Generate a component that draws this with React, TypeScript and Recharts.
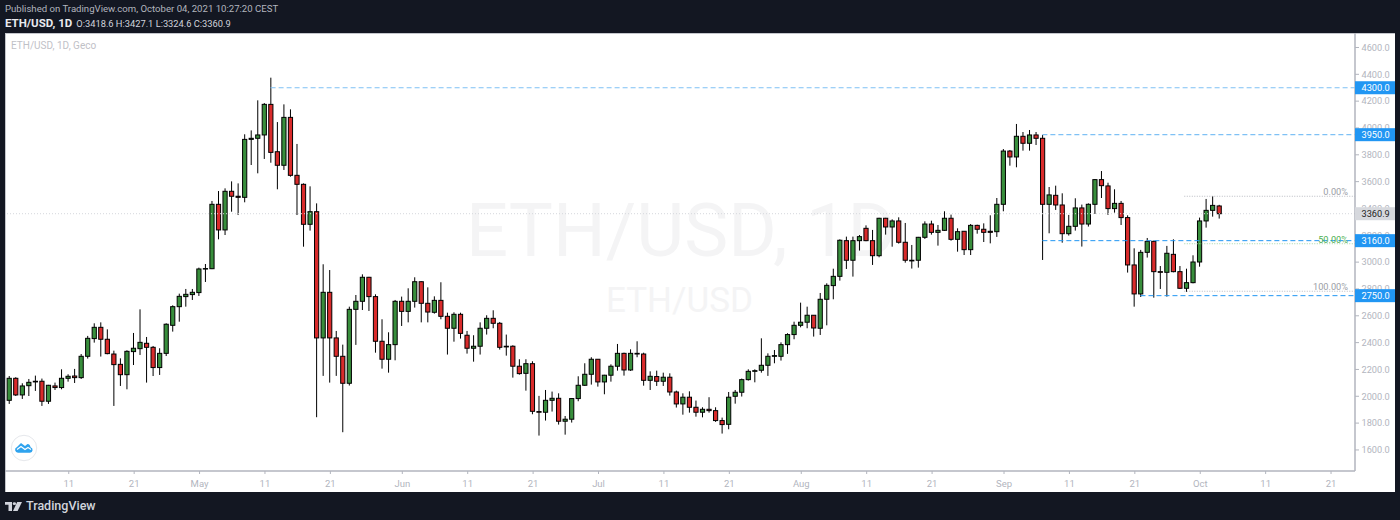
import { Bar, ComposedChart, ReferenceLine, XAxis, YAxis } from "recharts"

// one row per ten candles, first candle is Apr 02 2021, last is Oct 04 2021
const opens = [
  1970, 2134, 2010, 2079, 2112, 2112, 1963, 2077, 2065, 2134,
  2151, 2139, 2298, 2430, 2514, 2425, 2315, 2238, 2161, 2333,
  2355, 2395, 2365, 2214, 2320, 2529, 2668, 2743, 2758, 2773,
  2949, 2951, 3431, 3240, 3528, 3491, 3483, 3915, 3923, 3948,
  4176, 3823, 3722, 4079, 3647, 3580, 3282, 3376, 2435, 2775,
  2435, 2298, 2097, 2648, 2708, 2887, 2743, 2410, 2276, 2385,
  2708, 2633, 2708, 2854, 2693, 2626, 2715, 2596, 2507, 2611,
  2455, 2358, 2373, 2507, 2581, 2544, 2373, 2373, 2224, 2171,
  2243, 1886, 1881, 1970, 1985, 1814, 1829, 1983, 2082, 2164,
  2276, 2107, 2157, 2224, 2320, 2196, 2320, 2315, 2119, 2147,
  2112, 2142, 2032, 1943, 1993, 1918, 1881, 1903, 1893, 1819,
  1791, 2000, 2030, 2124, 2186, 2194, 2231, 2298, 2298, 2385,
  2460, 2529, 2552, 2604, 2507, 2723, 2825, 2894, 3160, 3014,
  3160, 3252, 3160, 3048, 3327, 3262, 3307, 3148, 3014, 3014,
  3185, 3284, 3222, 3237, 3327, 3170, 3230, 3093, 3274, 3245,
  3230, 3227, 3431, 3828, 3784, 3938, 3886, 3948, 3923, 3431,
  3498, 3426, 3212, 3267, 3404, 3284, 3431, 3615, 3568, 3399,
  3438, 3332, 2979, 2763, 3073, 3155, 2929, 2924, 3058, 2929,
  2805, 2847, 3001, 3307, 3386, 3418.6,
]
const highs = [
  2151, 2142, 2097, 2129, 2154, 2132, 2085, 2102, 2201, 2164,
  2204, 2315, 2450, 2544, 2551, 2499, 2340, 2283, 2343, 2472,
  2648, 2442, 2375, 2358, 2544, 2678, 2765, 2800, 2800, 2959,
  2986, 3456, 3530, 3550, 3602, 3587, 3953, 3982, 4206, 4186,
  4375, 4044, 4176, 4139, 3881, 3587, 3565, 3438, 2984, 2941,
  2487, 2385, 2668, 2755, 2909, 2890, 2760, 2574, 2477, 2718,
  2743, 2805, 2887, 2857, 2812, 2745, 2850, 2623, 2626, 2623,
  2487, 2455, 2551, 2604, 2641, 2554, 2460, 2380, 2276, 2276,
  2261, 2003, 2047, 2035, 2022, 1853, 1985, 2149, 2246, 2291,
  2276, 2160, 2238, 2390, 2325, 2350, 2410, 2325, 2186, 2191,
  2176, 2171, 2042, 2022, 2037, 1968, 1918, 1993, 1918, 1841,
  2032, 2047, 2132, 2201, 2201, 2432, 2320, 2345, 2402, 2470,
  2556, 2698, 2668, 2604, 2770, 2842, 2951, 3170, 3190, 3190,
  3202, 3274, 3240, 3330, 3330, 3319, 3334, 3292, 3128, 3188,
  3304, 3309, 3277, 3379, 3354, 3252, 3232, 3284, 3279, 3289,
  3349, 3478, 3843, 3836, 4030, 3970, 3985, 3970, 3948, 3560,
  3570, 3513, 3352, 3476, 3429, 3438, 3619, 3679, 3592, 3543,
  3456, 3349, 3103, 3091, 3180, 3160, 2971, 3121, 3170, 2971,
  2951, 3051, 3332, 3471, 3493, 3427.1,
]
const lows = [
  1943, 2002, 1980, 2002, 2040, 1928, 1943, 2047, 2052, 2109,
  2099, 2129, 2281, 2400, 2296, 2313, 1928, 2077, 2052, 2233,
  2308, 2102, 2151, 2159, 2300, 2482, 2556, 2668, 2718, 2748,
  2852, 2948, 3170, 3202, 3376, 3351, 3446, 3724, 3662, 3769,
  3741, 3543, 3687, 3637, 3351, 3115, 3235, 1844, 2152, 2102,
  2152, 1732, 2080, 2383, 2643, 2636, 2325, 2206, 2176, 2268,
  2524, 2551, 2661, 2551, 2551, 2616, 2574, 2311, 2407, 2430,
  2318, 2258, 2311, 2460, 2507, 2348, 2303, 2139, 2161, 2042,
  1866, 1707, 1819, 1886, 1789, 1714, 1804, 1963, 2077, 2087,
  2072, 2015, 2109, 2191, 2154, 2189, 2291, 2079, 2047, 2077,
  2077, 2005, 1916, 1863, 1878, 1848, 1843, 1878, 1809, 1722,
  1754, 1945, 1998, 2117, 2104, 2176, 2152, 2246, 2266, 2316,
  2425, 2514, 2507, 2445, 2457, 2529, 2723, 2862, 2949, 2892,
  3086, 3156, 2979, 3036, 3205, 3115, 3138, 2996, 2952, 2959,
  3173, 3205, 3123, 3232, 3160, 3078, 3053, 3053, 3212, 3150,
  3140, 3188, 3379, 3719, 3707, 3831, 3831, 3873, 3016, 3215,
  3389, 3145, 3198, 3235, 3116, 3265, 3359, 3478, 3352, 3369,
  3277, 2922, 2668, 2740, 3034, 2735, 2800, 2743, 2924, 2800,
  2778, 2842, 2966, 3257, 3339, 3324.6,
]
const closes = [
  2134, 2010, 2077, 2104, 2107, 1963, 2082, 2065, 2134, 2149,
  2139, 2298, 2432, 2514, 2425, 2318, 2236, 2161, 2335, 2358,
  2402, 2365, 2214, 2320, 2537, 2668, 2745, 2760, 2775, 2949,
  2952, 3431, 3240, 3528, 3491, 3483, 3915, 3923, 3948, 4176,
  3818, 3722, 4079, 3647, 3580, 3282, 3376, 2435, 2775, 2435,
  2298, 2097, 2648, 2708, 2887, 2743, 2410, 2276, 2385, 2708,
  2633, 2708, 2854, 2693, 2628, 2715, 2596, 2507, 2611, 2469,
  2358, 2373, 2507, 2581, 2544, 2365, 2368, 2224, 2169, 2243,
  1888, 1881, 1970, 1985, 1814, 1829, 1983, 2082, 2164, 2276,
  2107, 2157, 2224, 2320, 2196, 2320, 2315, 2119, 2149, 2112,
  2142, 2032, 1943, 1993, 1918, 1881, 1903, 1893, 1819, 1789,
  1993, 2030, 2124, 2186, 2191, 2231, 2298, 2303, 2385, 2460,
  2529, 2552, 2604, 2509, 2723, 2827, 2894, 3163, 3014, 3160,
  3190, 3160, 3048, 3327, 3262, 3307, 3148, 3014, 3009, 3185,
  3284, 3222, 3237, 3327, 3170, 3227, 3093, 3274, 3245, 3222,
  3222, 3431, 3828, 3784, 3938, 3886, 3948, 3923, 3431, 3501,
  3426, 3212, 3267, 3404, 3284, 3431, 3615, 3570, 3399, 3438,
  3332, 2979, 2763, 3073, 3155, 2929, 2924, 3066, 2929, 2805,
  2847, 3001, 3307, 3386, 3423, 3360.9,
]

const timeTicks = [9, 19, 29, 39, 49, 60, 70, 80, 90, 100, 110, 121, 131, 141, 152, 162, 172, 182, 192, 202]
const timeLabels = ["11", "21", "May", "11", "21", "Jun", "11", "21", "Jul", "11", "21", "Aug", "11", "21", "Sep", "11", "21", "Oct", "11", "21"]
const priceTicks = [1600, 1800, 2000, 2200, 2400, 2600, 2800, 3000, 3200, 3400, 3600, 3800, 4000, 4200, 4400, 4600]
const levelTags = [2750, 3160, 3950, 4300]
const lastPrice = 3360.9
const fibLevels = [3491, 3137, 2783]
const fibLabels = ["0.00%", "50.00%", "100.00%"]

const data = opens.map((open, i) => ({
  i,
  open,
  high: highs[i],
  low: lows[i],
  close: closes[i],
}))

const X_MAX = 205.8
const UP = "#388e3c"
const DOWN = "#d92b2b"
const TEXT = "#b2b5be"
const FONT = "Roboto, sans-serif"

function Candle({ x, y, width, height, payload }: any) {
  const { open, close, high, low } = payload
  const at = (v: number) => y + ((high - v) / (high - low)) * height
  const cx = x + width / 2
  const top = at(Math.max(open, close))
  const bottom = at(Math.min(open, close))
  return (
    <g>
      <line x1={cx} x2={cx} y1={y} y2={y + height} stroke="#000" strokeWidth={1} />
      <rect
        x={cx - 2.1}
        y={top}
        width={4.2}
        height={Math.max(bottom - top, 0.5)}
        fill={close >= open ? UP : DOWN}
        stroke="#000"
        strokeWidth={1}
      />
    </g>
  )
}

function PriceTick({ x, y, payload }: any) {
  const v = payload.value as number
  const isLast = v === lastPrice
  const isTag = isLast || levelTags.includes(v)
  return (
    <g>
      {!isTag && <line x1={x} x2={x + 4} y1={y} y2={y} stroke={TEXT} />}
      {isTag && <rect x={x} y={y - 6.5} width={40} height={13} fill={isLast ? "#d6d8dd" : "#2196f3"} />}
      <text
        x={x + 6.5}
        y={y + 3.3}
        fontSize={9.2}
        fontFamily={FONT}
        fill={isLast ? "#222" : isTag ? "#fff" : TEXT}
      >
        {v.toFixed(1)}
      </text>
    </g>
  )
}

function TimeTick({ x, y, payload }: any) {
  const label = timeLabels[timeTicks.indexOf(payload.value)]
  return (
    <g>
      <line x1={x + 0.9} x2={x + 0.9} y1={y} y2={y + 3} stroke={TEXT} />
      <text x={x + 0.9} y={y + 15.5} fontSize={9.5} fontFamily={FONT} fill={TEXT} textAnchor="middle">
        {label}
      </text>
    </g>
  )
}

function CloudBadge() {
  return (
    <svg width={28} height={28} viewBox="0 0 28 28" style={{ position: "absolute", left: 10, top: 434 }}>
      <circle cx={14} cy={14} r={12.7} fill="#fff" stroke="#e6e8ec" />
      <path d="M8 18.7 a3 3 0 0 1-1-5.8 L11 9 L15 12 L17.5 10 a3.5 3.5 0 0 1 3 3.2 a2.8 2.8 0 0 1-0.5 5.5 Z" fill="#2fa3ee" />
      <path d="M7 15.5 L11 12.5 L15 15.5 L18 13.5 L21 15.5" fill="none" stroke="#fff" strokeWidth={1.2} />
    </svg>
  )
}

function TvLogo() {
  return (
    <svg width={17} height={9} viewBox="0 0 17 11" preserveAspectRatio="none" style={{ position: "absolute", left: 5, top: 501.5 }}>
      <path d="M0 0 H7 V11 H3.5 V3.5 H0 Z" fill="#d1d4dc" />
      <circle cx={9.4} cy={2} r={1.7} fill="#d1d4dc" />
      <path d="M12.2 0 H17 L12.6 11 H8 Z" fill="#d1d4dc" />
    </svg>
  )
}

export default function App() {
  return (
    <div style={{ position: "absolute", left: 0, top: 0, width: 1400, height: 520, background: "#131722", fontFamily: FONT, overflow: "hidden" }}>
      <div style={{ position: "absolute", left: 5, top: 3, fontSize: 9.6, color: TEXT, whiteSpace: "nowrap" }}>
        Published on TradingView.com, October 04, 2021 10:27:20 CEST
      </div>
      <div style={{ position: "absolute", left: 5, top: 16, fontSize: 9.3, color: "#d1d4dc", whiteSpace: "nowrap" }}>
        <b style={{ color: "#e8eaef", fontSize: 11.5, fontWeight: 700 }}>ETH/USD, 1D</b>
        <span style={{ marginLeft: 4 }}>O:3418.6 H:3427.1 L:3324.6 C:3360.9</span>
      </div>

      <div style={{ position: "absolute", left: 5, top: 33, width: 1390, height: 459, background: "#fff", boxShadow: "inset 1px 1px 0 #c4c6cc" }} />
      <div style={{ position: "absolute", left: 466, top: 186, fontSize: 74, color: "#f4f4f5", whiteSpace: "nowrap", lineHeight: "90px" }}>ETH/USD, 1D</div>
      <div style={{ position: "absolute", left: 606, top: 276, fontSize: 35, color: "#f4f4f5", whiteSpace: "nowrap", lineHeight: "50px" }}>ETH/USD</div>
      <div style={{ position: "absolute", left: 11, top: 40, fontSize: 10, color: "#bfc1c7", whiteSpace: "nowrap" }}>ETH/USD, 1D, Geco</div>

      <div style={{ position: "absolute", left: 5, top: 33 }}>
        <ComposedChart width={1390} height={459} data={data} margin={{ top: 0, right: 0, bottom: 0, left: 0 }}>
          <XAxis
            dataKey="i"
            type="number"
            scale="linear"
            domain={[-0.61, X_MAX]}
            ticks={timeTicks}
            interval={0}
            height={21}
            axisLine={{ stroke: TEXT, strokeWidth: 1.5 }}
            tickLine={false}
            tickSize={0}
            tickMargin={0}
            tick={<TimeTick />}
            allowDataOverflow
          />
          <YAxis
            orientation="right"
            type="number"
            domain={[1443, 4708]}
            ticks={[...priceTicks, lastPrice, ...levelTags]}
            interval={0}
            width={40}
            axisLine={{ stroke: TEXT, strokeWidth: 1.5 }}
            tickLine={false}
            tickSize={0}
            tickMargin={0}
            tick={<PriceTick />}
            allowDataOverflow
          />
          <ReferenceLine y={lastPrice} stroke="#d5d7dc" strokeDasharray="1 2" />
          <ReferenceLine segment={[{ x: 40, y: 4300 }, { x: X_MAX, y: 4300 }]} stroke="#7fc1f5" strokeWidth={1.2} strokeDasharray="5 3" />
          <ReferenceLine segment={[{ x: 158, y: 3950 }, { x: X_MAX, y: 3950 }]} stroke="#7fc1f5" strokeWidth={1.2} strokeDasharray="5 3" />
          <ReferenceLine segment={[{ x: 158, y: 3160 }, { x: X_MAX, y: 3160 }]} stroke="#2196f3" strokeDasharray="5 3" />
          <ReferenceLine segment={[{ x: 173, y: 2750 }, { x: X_MAX, y: 2750 }]} stroke="#2196f3" strokeDasharray="5 3" />
          {fibLevels.map((level, n) => (
            <ReferenceLine
              key={level}
              segment={[{ x: 179.7, y: level }, { x: X_MAX, y: level }]}
              stroke={n === 1 ? "#a5d6a7" : "#b8bac0"}
              strokeDasharray="1 1.5"
              label={{
                value: fibLabels[n],
                position: "insideBottomRight",
                offset: 1,
                dx: -6,
                fontSize: 9.2,
                fontFamily: FONT,
                fill: n === 1 ? "#4caf50" : "#9a9da5",
              }}
            />
          ))}
          <Bar dataKey={(d: any) => [d.low, d.high]} barSize={5} shape={<Candle />} isAnimationActive={false} />
        </ComposedChart>
      </div>

      <CloudBadge />
      <TvLogo />
      <div style={{ position: "absolute", left: 26, top: 498, fontSize: 12.5, fontWeight: 500, color: "#d1d4dc", fontFamily: FONT, whiteSpace: "nowrap" }}>
        TradingView
      </div>
    </div>
  )
}
